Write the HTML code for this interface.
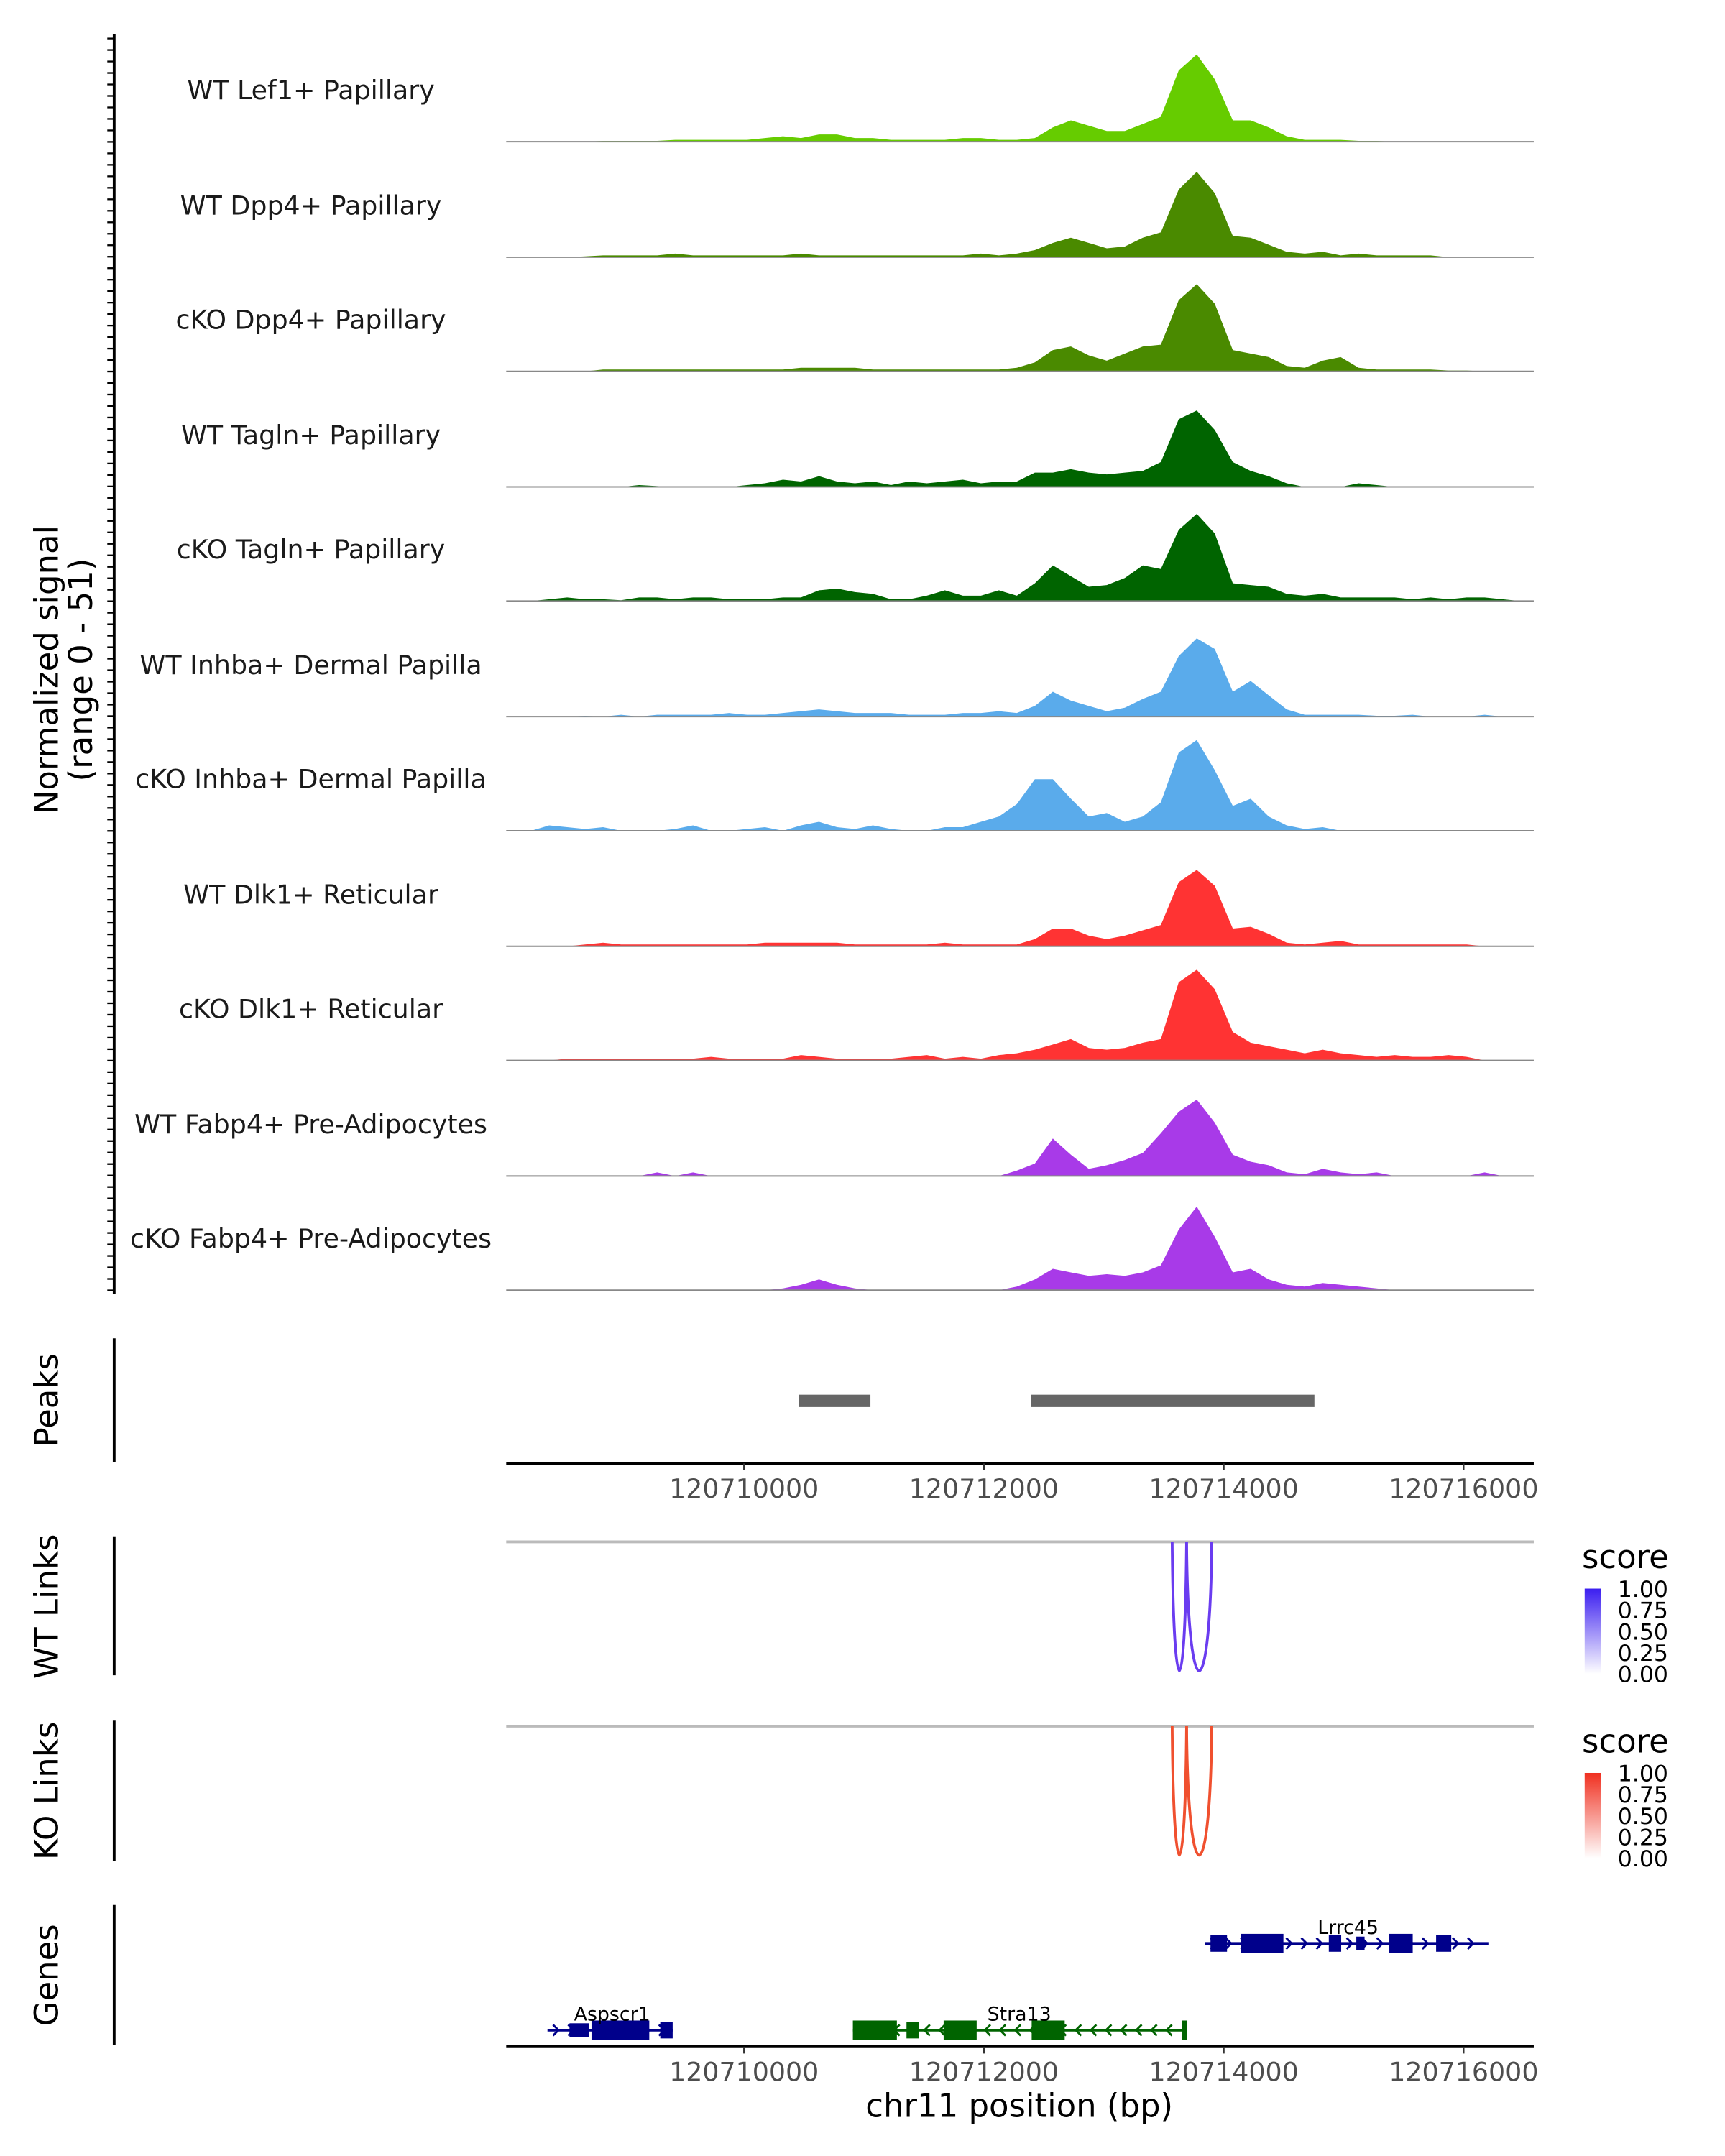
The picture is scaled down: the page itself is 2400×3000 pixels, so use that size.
<!DOCTYPE html>
<html><head><meta charset="utf-8">
<style>
html,body{margin:0;padding:0;background:#fff;}
svg{display:block;font-family:"DejaVu Sans","Liberation Sans",sans-serif;}
</style></head>
<body>
<svg id="chart" width="2400" height="3000" viewBox="0 0 1254 1567.5" preserveAspectRatio="none" xmlns="http://www.w3.org/2000/svg">
<defs>
<linearGradient id="gradWT" x1="0" y1="1" x2="0" y2="0"><stop offset="0" stop-color="#ffffff"/><stop offset="1" stop-color="#3b1ef0"/></linearGradient>
<linearGradient id="gradKO" x1="0" y1="1" x2="0" y2="0"><stop offset="0" stop-color="#ffffff"/><stop offset="1" stop-color="#f03020"/></linearGradient>
</defs>
<g id="layer"></g>
</svg>
<script>
// ---- data ----
const binStart = 120708150;
const binSize = 150;
const trackNames = ["WT Lef1+ Papillary","WT Dpp4+ Papillary","cKO Dpp4+ Papillary","WT Tagln+ Papillary","cKO Tagln+ Papillary","WT Inhba+ Dermal Papilla","cKO Inhba+ Dermal Papilla","WT Dlk1+ Reticular","cKO Dlk1+ Reticular","WT Fabp4+ Pre-Adipocytes","cKO Fabp4+ Pre-Adipocytes"];
const trackColors = ["#66cc00","#4a8a00","#4a8a00","#006400","#006400","#5aabeb","#5aabeb","#ff3333","#ff3333","#a83ae8","#a83ae8"];
const sigLef1WT = [0,0,0,0,0.5,0.5,0.5,0.5,1,1,1, 1,1,2,3,2,4,4,2,2,1, 1,1,1,2,2,1,1,2, 8,12,9,6,6,10,14, 40,49,35, 12,12,8,3, 1,1,1,0.5,0.5,0,0,0,0,0,0,0,0];
const sigDpp4WT = [0,0,0,0.5,1,1,1,1,2,1,1, 1,1,1,1,2,1,1,1,1,1, 1,1,1,1,2,1,2,4, 8,11,8,5,6,11,14, 38,48,36, 12,11,7,3, 2,3,1,2,1,1,1,1,0,0,0,0,0];
const sigDpp4KO = [0,0,0,0,1,1,1,1,1,1,1, 1,1,1,1,2,2,2,2,1,1, 1,1,1,1,1,1,2,5, 12,14,9,6,10,14,15, 40,49,38, 12,10,8,3, 2,6,8,2,1,1,1,1,0.5,0.5,0,0,0];
const sigTaglnWT = [0,0,0,0,0,0,1,0.5,0,0,0, 0,1,2,4,3,6,3,2,3,1, 3,2,3,4,2,3,3,8, 8,10,8,7,8,9,14, 38,43,32, 14,9,6,2, 0,0,0,2,1,0,0,0,0,0,0,0,0];
const sigTaglnKO = [0,1,2,1,1,0.5,2,2,1,2,2, 1,1,1,2,2,6,7,5,4,1, 1,3,6,3,3,6,3,10, 20,14,8,9,13,20,18, 40,49,38, 10,9,8,4, 3,4,2,2,2,2,1,2,1,2,2,1,0];
const sigInhbaWT = [0,0,0,0.5,0,1,0,1,1,1,1, 2,1,1,2,3,4,3,2,2,2, 1,1,1,2,2,3,2,6, 14,9,6,3,5,10,14, 34,44,38, 14,20,12,4, 1,1,1,1,0.5,0.5,1,0,0,0,1,0,0];
const sigInhbaKO = [0,3,2,1,2,0,0,0,1,3,0, 0,1,2,0,3,5,2,1,3,1, 0,0,2,2,5,8,15,29, 29,18,8,10,5,8,16, 44,51,34, 14,18,8,3, 1,2,0,0,0,0,0,0,0,0,0,0,0];
const sigDlk1WT = [0,0,0,1,2,1,1,1,1,1,1, 1,1,2,2,2,2,2,1,1,1, 1,1,2,1,1,1,1,4, 10,10,6,4,6,9,12, 36,43,34, 10,11,7,2, 1,2,3,1,1,1,1,1,1,1,0,0,0];
const sigDlk1KO = [0,0,1,1,1,1,1,1,1,1,2, 1,1,1,1,3,2,1,1,1,1, 2,3,1,2,1,3,4,6, 9,12,7,6,7,10,12, 44,51,40, 16,10,8,6, 4,6,4,3,2,3,2,2,3,2,0,0,0];
const sigFabp4WT = [0,0,0,0,0,0,0,2,0,2,0, 0,0,0,0,0,0,0,0,0,0, 0,0,0,0,0,0,3,7, 21,12,4,6,9,13,24, 36,43,30, 12,8,6,2, 1,4,2,1,2,0,0,0,0,0,2,0,0];
const sigFabp4KO = [0,0,0,0,0,0,0,0,0,0,0, 0,0,0,1,3,6,3,1,0,0, 0,0,0,0,0,0,2,6, 12,10,8,9,8,10,14, 34,47,30, 10,12,6,3, 2,4,3,2,1,0,0,0,0,0,0,0,0];
const signals = [sigLef1WT,sigDpp4WT,sigDpp4KO,sigTaglnWT,sigTaglnKO,sigInhbaWT,sigInhbaKO,sigDlk1WT,sigDlk1KO,sigFabp4WT,sigFabp4KO];
const peakStarts = [120710458,120712395];
const peakEnds = [120711054,120714756];
const xTicks = [120710000,120712000,120714000,120716000];
const wtLinkStarts = [120713570,120713690];
const wtLinkEnds = [120713690,120713900];
const koLinkStarts = [120713570,120713690];
const koLinkEnds = [120713690,120713900];
const scoreTicks = ["1.00","0.75","0.50","0.25","0.00"];

// ---- scales ----
const X0 = 368, X1 = 1115;
const bpMin = 120708017, bpMax = 120716585;
const xs = bp => X0 + (bp - bpMin) / (bpMax - bpMin) * (X1 - X0);
const baselines = [103,187,270,354,437,521,604,688,771,855,938];
const ys = v => v / 51 * 66;

const NS = "http://www.w3.org/2000/svg";
const layer = document.getElementById("layer");
function mk(tag, attrs, parent) {
  const e = document.createElementNS(NS, tag);
  for (const k in attrs) e.setAttribute(k, attrs[k]);
  (parent || layer).appendChild(e);
  return e;
}
function txt(s, attrs, parent) { const t = mk("text", attrs, parent); t.textContent = s; return t; }

// y axis for signal
let g = mk("g", {});


mk("line", {x1:83,y1:25,x2:83,y2:941,stroke:"#000","stroke-width":2}, g);
for (let y = 28; y <= 940; y += 8.35) mk("line", {x1:78,y1:y,x2:83,y2:y,stroke:"#000","stroke-width":1.2}, g);
let t = txt("Normalized signal", {x:0,y:0,"font-size":23.5,"text-anchor":"middle",transform:"translate(42,487) rotate(-90)"});


t = txt("(range 0 - 51)", {x:0,y:0,"font-size":23.5,"text-anchor":"middle",transform:"translate(67,487) rotate(-90)"});



// coverage tracks
signals.forEach((vals, k) => {
  const base = baselines[k];
  const tg = mk("g", {});
  
  
  let d = "M" + xs(binStart) + "," + base;
  vals.forEach((v, i) => {
    const bp = binStart + i * binSize + binSize / 2;
    d += " L" + xs(bp).toFixed(1) + "," + (base - ys(v)).toFixed(1);
  });
  d += " L" + xs(binStart + vals.length * binSize) + "," + base + " Z";
  const p = mk("path", {d:d, fill:trackColors[k]}, tg);
  
  
  mk("line", {x1:X0,y1:base,x2:X1,y2:base,stroke:"#888","stroke-width":1}, tg);
  const lab = txt(trackNames[k], {x:226,y:base-31,"font-size":19,"text-anchor":"middle",fill:"#1a1a1a"}, tg);
  
  
});

// side labels and lines
[["Peaks",973,1063,1018],["WT Links",1117,1218,1168],["KO Links",1251,1353,1302],["Genes",1385,1487,1436]].forEach(a => {
  mk("line", {x1:83,y1:a[1],x2:83,y2:a[2],stroke:"#000","stroke-width":2});
  const s = txt(a[0], {x:0,y:0,"font-size":23.5,"text-anchor":"middle",transform:"translate(42,"+a[3]+") rotate(-90)"});
  
  
});

// peaks
peakStarts.forEach((s, i) => {
  const r = mk("rect", {x:xs(s),y:1014,width:xs(peakEnds[i])-xs(s),height:9,fill:"#666"});
  
  
});

function xAxis(y, name) {
  const ag = mk("g", {});
  
  
  mk("line", {x1:X0,y1:y,x2:X1,y2:y,stroke:"#000","stroke-width":2}, ag);
  xTicks.forEach(v => {
    mk("line", {x1:xs(v),y1:y,x2:xs(v),y2:y+5,stroke:"#333","stroke-width":1.2}, ag);
    txt(String(v), {x:xs(v),y:y+25,"font-size":19,"text-anchor":"middle",fill:"#4d4d4d"}, ag);
  });
}
xAxis(1064, 'peaks-x-axis');
xAxis(1488, 'genes-x-axis');
t = txt("chr11 position (bp)", {x:741,y:1539,"font-size":23.5,"text-anchor":"middle"});



// links
function links(base, starts, ends, color, name) {
  const lg = mk("g", {});
  
  
  mk("line", {x1:X0,y1:base,x2:X1,y2:base,stroke:"#bbb","stroke-width":2}, lg);
  starts.forEach((s, i) => {
    const a = xs(s), b = xs(ends[i]);
    const p = mk("path", {d:`M${a},${base} C${a+1},${base+125} ${b-1},${base+125} ${b},${base}`,fill:"none",stroke:color,"stroke-width":2}, lg);
    
    
  });
}
links(1121, wtLinkStarts, wtLinkEnds, "#6a3cf0", 'wt-links');
links(1255, koLinkStarts, koLinkEnds, "#f0502f", 'ko-links');

function legend(y, grad, name) {
  const lg = mk("g", {});
  
  
  txt("score", {x:1150,y:y,"font-size":23.5}, lg);
  mk("rect", {x:1152,y:y+15,width:12,height:62,fill:"url(#"+grad+")"}, lg);
  scoreTicks.forEach((s, i) => txt(s, {x:1176,y:y+21+i*15.5,"font-size":16.5}, lg));
}
legend(1140, "gradWT", 'wt-score-legend');
legend(1274, "gradKO", 'ko-score-legend');

// genes
function gene(y, x0, x1, color, exons, dir, label, lx, name) {
  const gg = mk("g", {});
  
  
  mk("line", {x1:x0,y1:y,x2:x1,y2:y,stroke:color,"stroke-width":2}, gg);
  for (let x = x0 + 8; x < x1 - 4; x += 11) {
    const dx = dir > 0 ? 4 : -4;
    mk("path", {d:`M${x-dx},${y-4} L${x},${y} L${x-dx},${y+4}`,fill:"none",stroke:color,"stroke-width":1.5}, gg);
  }
  exons.forEach(e => mk("rect", {x:e[0],y:y-e[2]/2,width:e[1]-e[0],height:e[2],fill:color}, gg));
  txt(label, {x:lx,y:y-7,"font-size":14,"text-anchor":"middle"}, gg);
}
gene(1413, 876, 1082, "#00008b", [[880,892,12],[902,933,14],[966,975,12],[986,992,10],[1010,1027,14],[1044,1055,12]], 1, "Lrrc45", 980, 'gene-lrrc45');
gene(1476, 398, 489, "#00008b", [[414,428,10],[430,472,14],[480,489,12]], 1, "Aspscr1", 445, 'gene-aspscr1');
gene(1476, 620, 862, "#006400", [[620,652,14],[659,668,12],[686,710,14],[750,774,14],[859,863,14]], -1, "Stra13", 741, 'gene-stra13');
</script>
</body></html>
